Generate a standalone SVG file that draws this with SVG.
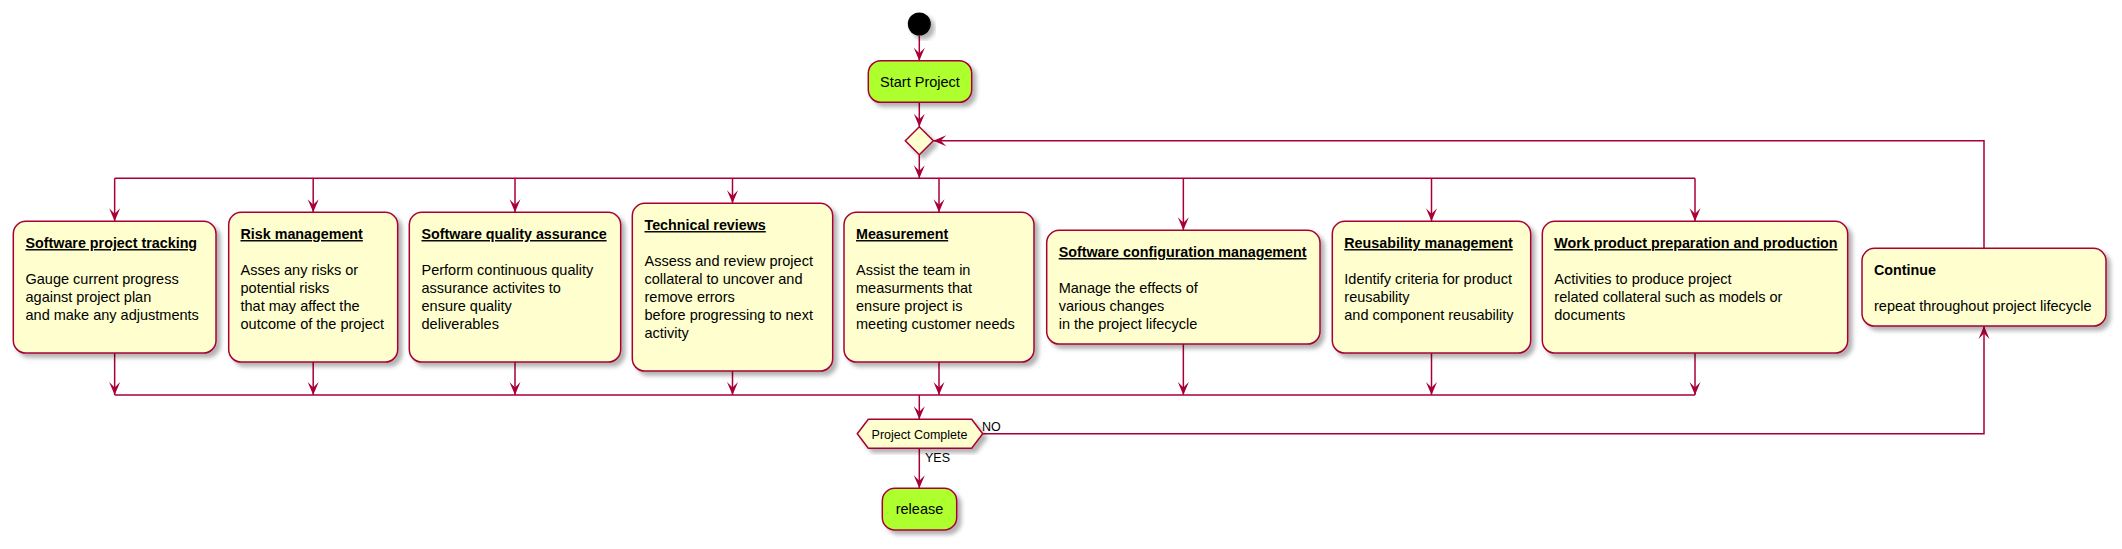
<svg xmlns="http://www.w3.org/2000/svg" width="2122" height="549" viewBox="0 0 2122 549">
<style>
.box{fill:#FEFECE;stroke:#A80036;stroke-width:1.5;filter:url(#sh)}
.grn{fill:#ADFF2F;stroke:#A80036;stroke-width:1.5;filter:url(#sh)}
.t{font-family:"Liberation Sans",Arial,sans-serif;font-size:14.5px;fill:#000}
.b{font-weight:bold;font-size:14.3px}
.u{text-decoration:underline}
.s{font-family:"Liberation Sans",Arial,sans-serif;font-size:12.5px;fill:#000}
.c{fill:none;stroke:#A80036;stroke-width:1.5}
.a{marker-end:url(#ah)}
</style>
<defs>
<filter id="sh" x="-20%" y="-20%" width="140%" height="140%">
<feDropShadow dx="4" dy="4" stdDeviation="2" flood-color="#000" flood-opacity="0.3"/>
</filter>
<marker id="ah" markerUnits="userSpaceOnUse" viewBox="-14 -6 15 12" markerWidth="15" markerHeight="12" refX="0" refY="0" orient="auto">
<path d="M0,0 L-13,-5.5 L-7.5,0 L-13,5.5 Z" fill="#A80036"/>
</marker>
</defs>
<rect width="2122" height="549" fill="#fff"/>

<g id="connectors">
<line class="c a" x1="919.3" y1="35.5" x2="919.3" y2="60.7"/>
<line class="c a" x1="919.3" y1="102.3" x2="919.3" y2="126.7"/>
<line class="c a" x1="919.3" y1="154.7" x2="919.3" y2="178.3"/>
<line class="c" x1="114.65" y1="178.3" x2="1695" y2="178.3"/>
<line class="c a" x1="114.65" y1="178.3" x2="114.65" y2="221.35"/>
<line class="c a" x1="313.2" y1="178.3" x2="313.2" y2="212.35"/>
<line class="c a" x1="515" y1="178.3" x2="515" y2="212.35"/>
<line class="c a" x1="732.5" y1="178.3" x2="732.5" y2="203.35"/>
<line class="c a" x1="939" y1="178.3" x2="939" y2="212.35"/>
<line class="c a" x1="1183.35" y1="178.3" x2="1183.35" y2="230.35"/>
<line class="c a" x1="1431.5" y1="178.3" x2="1431.5" y2="221.35"/>
<line class="c a" x1="1695" y1="178.3" x2="1695" y2="221.35"/>
<line class="c a" x1="114.65" y1="353.05" x2="114.65" y2="395"/>
<line class="c a" x1="313.2" y1="362.05" x2="313.2" y2="395"/>
<line class="c a" x1="515" y1="362.05" x2="515" y2="395"/>
<line class="c a" x1="732.5" y1="371.05" x2="732.5" y2="395"/>
<line class="c a" x1="939" y1="362.05" x2="939" y2="395"/>
<line class="c a" x1="1183.35" y1="344.05" x2="1183.35" y2="395"/>
<line class="c a" x1="1431.5" y1="353.05" x2="1431.5" y2="395"/>
<line class="c a" x1="1695" y1="353.05" x2="1695" y2="395"/>
<line class="c" x1="114.65" y1="395" x2="1695" y2="395"/>
<line class="c a" x1="919.3" y1="395" x2="919.3" y2="419.3"/>
<polyline class="c a" points="982.7,433.8 1984,433.8 1984,326.05"/>
<polyline class="c a" points="1984,248.35 1984,140.7 933.3,140.7"/>
<line class="c a" x1="919.3" y1="448.3" x2="919.3" y2="488.3"/>
<text class="s" x="982" y="431">NO</text>
<text class="s" x="925" y="462">YES</text>
</g>

<g id="start">
<circle cx="919.3" cy="24" r="11.5" fill="#000" filter="url(#sh)"/>
</g>

<g id="startProject">
<rect class="grn" x="868.3" y="60.7" width="103.4" height="41.6" rx="12.5"/>
<text class="t" x="920" y="86.5" text-anchor="middle">Start Project</text>
</g>

<g id="merge">
<polygon class="box" points="905.3,140.7 919.3,126.7 933.3,140.7 919.3,154.7"/>
</g>

<g id="tracking">
<rect class="box" x="13.3" y="221.35" width="202.7" height="131.7" rx="12.5"/>
<text class="t b u" x="25.5" y="248.05">Software project tracking</text>
<text class="t" x="25.5" y="284.05">Gauge current progress</text>
<text class="t" x="25.5" y="302.05">against project plan</text>
<text class="t" x="25.5" y="320.05">and make any adjustments</text>
</g>

<g id="risk">
<rect class="box" x="228.7" y="212.35" width="169" height="149.7" rx="12.5"/>
<text class="t b u" x="240.5" y="239.05">Risk management</text>
<text class="t" x="240.5" y="275.05">Asses any risks or</text>
<text class="t" x="240.5" y="293.05">potential risks</text>
<text class="t" x="240.5" y="311.05">that may affect the</text>
<text class="t" x="240.5" y="329.05">outcome of the project</text>
</g>

<g id="quality">
<rect class="box" x="409.3" y="212.35" width="211.4" height="149.7" rx="12.5"/>
<text class="t b u" x="421.5" y="239.05">Software quality assurance</text>
<text class="t" x="421.5" y="275.05">Perform continuous quality</text>
<text class="t" x="421.5" y="293.05">assurance activites to</text>
<text class="t" x="421.5" y="311.05">ensure quality</text>
<text class="t" x="421.5" y="329.05">deliverables</text>
</g>

<g id="reviews">
<rect class="box" x="632.3" y="203.35" width="200.4" height="167.7" rx="12.5"/>
<text class="t b u" x="644.5" y="230.05">Technical reviews</text>
<text class="t" x="644.5" y="266.05">Assess and review project</text>
<text class="t" x="644.5" y="284.05">collateral to uncover and</text>
<text class="t" x="644.5" y="302.05">remove errors</text>
<text class="t" x="644.5" y="320.05">before progressing to next</text>
<text class="t" x="644.5" y="338.05">activity</text>
</g>

<g id="measurement">
<rect class="box" x="844" y="212.35" width="190" height="149.7" rx="12.5"/>
<text class="t b u" x="856" y="239.05">Measurement</text>
<text class="t" x="856" y="275.05">Assist the team in</text>
<text class="t" x="856" y="293.05">measurments that</text>
<text class="t" x="856" y="311.05">ensure project is</text>
<text class="t" x="856" y="329.05">meeting customer needs</text>
</g>

<g id="configuration">
<rect class="box" x="1046.7" y="230.35" width="273.3" height="113.7" rx="12.5"/>
<text class="t b u" x="1058.7" y="257.05">Software configuration management</text>
<text class="t" x="1058.7" y="293.05">Manage the effects of</text>
<text class="t" x="1058.7" y="311.05">various changes</text>
<text class="t" x="1058.7" y="329.05">in the project lifecycle</text>
</g>

<g id="reusability">
<rect class="box" x="1332.3" y="221.35" width="198.4" height="131.7" rx="12.5"/>
<text class="t b u" x="1344.3" y="248.05">Reusability management</text>
<text class="t" x="1344.3" y="284.05">Identify criteria for product</text>
<text class="t" x="1344.3" y="302.05">reusability</text>
<text class="t" x="1344.3" y="320.05">and component reusability</text>
</g>

<g id="workproduct">
<rect class="box" x="1542.3" y="221.35" width="305.4" height="131.7" rx="12.5"/>
<text class="t b u" x="1554.3" y="248.05">Work product preparation and production</text>
<text class="t" x="1554.3" y="284.05">Activities to produce project</text>
<text class="t" x="1554.3" y="302.05">related collateral such as models or</text>
<text class="t" x="1554.3" y="320.05">documents</text>
</g>

<g id="continue">
<rect class="box" x="1862" y="248.35" width="244" height="77.7" rx="12.5"/>
<text class="t b" x="1874" y="275.05">Continue</text>
<text class="t" x="1874" y="311.05">repeat throughout project lifecycle</text>
</g>

<g id="projectComplete">
<polygon class="box" points="857.3,433.8 868.3,419.3 971.7,419.3 982.7,433.8 971.7,448.3 868.3,448.3"/>
<text class="s" x="919.5" y="438.5" text-anchor="middle">Project Complete</text>
</g>

<g id="release">
<rect class="grn" x="882.3" y="488.3" width="74.4" height="41.7" rx="12.5"/>
<text class="t" x="919.5" y="514" text-anchor="middle">release</text>
</g>
</svg>
